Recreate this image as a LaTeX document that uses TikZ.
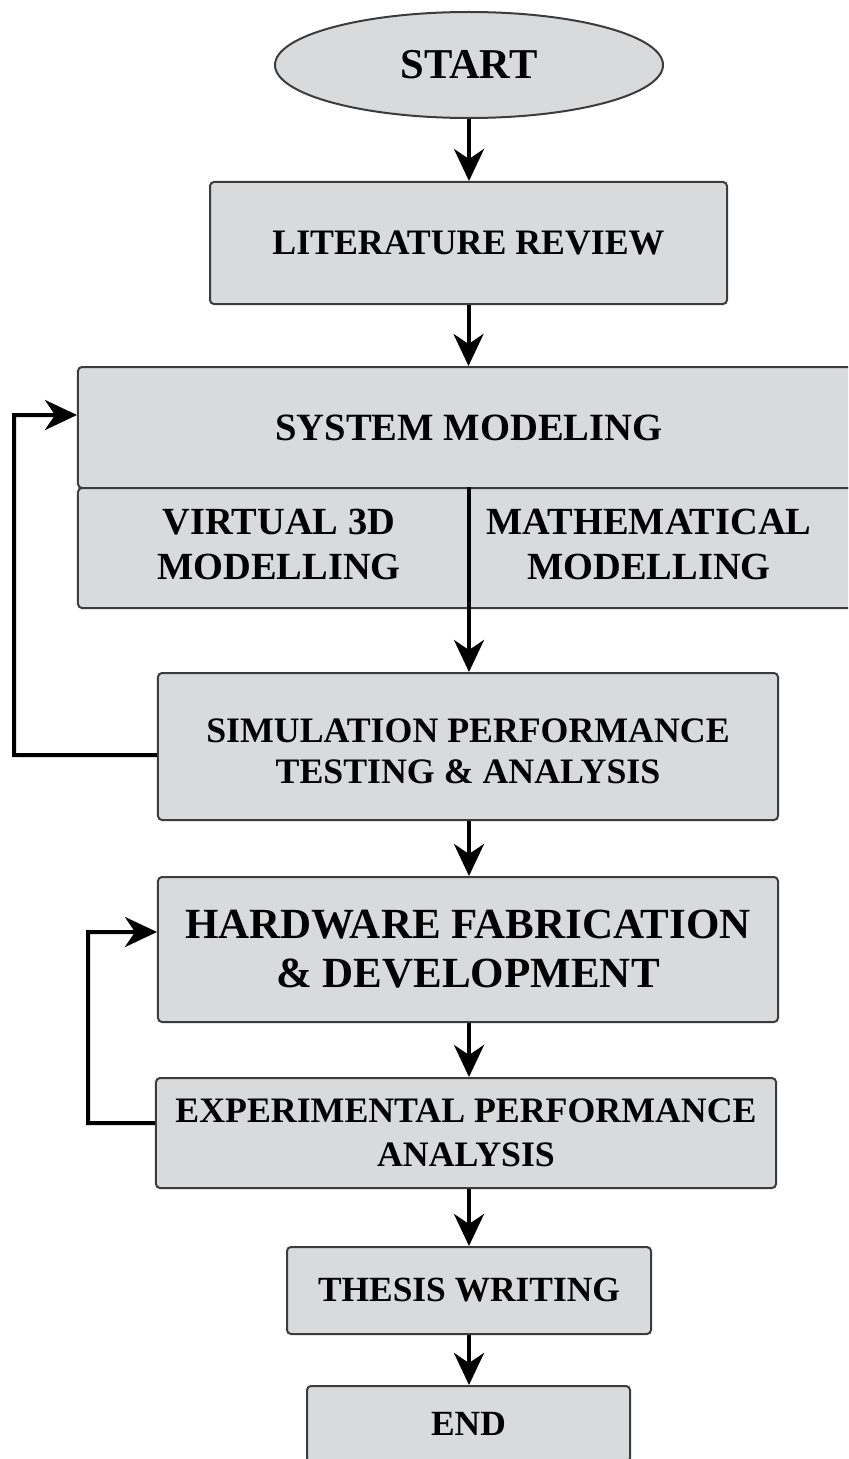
\documentclass[tikz,border=0pt]{standalone}
\usepackage{fontspec}
\setmainfont{Liberation Serif}
\usetikzlibrary{arrows.meta,shapes.geometric}
\definecolor{boxfill}{HTML}{D9DADC}
\definecolor{boxline}{HTML}{3C3C3C}
\begin{document}
\begin{tikzpicture}[x=1bp,y=-1bp,
  box/.style={draw=boxline,line width=2bp,fill=boxfill,rounded corners=4bp,inner sep=0pt,align=center,
    font=\bfseries\fontsize{35.8bp}{41bp}\selectfont},
  plain/.style={inner sep=0pt,align=center,font=\bfseries\fontsize{38.4bp}{45bp}\selectfont},
  arr/.style={line width=4bp,-{Stealth[length=32bp,width=30bp,inset=10bp]}}]
\useasboundingbox (0,0) rectangle (848,1459);
\clip (0,0) rectangle (848,1459);
\node[box,ellipse,rounded corners=0pt,minimum width=388bp,minimum height=106bp,
  font=\bfseries\fontsize{42.5bp}{46bp}\selectfont] (start) at (469,65) {START};
\node[box,minimum width=517bp,minimum height=122bp] (lit) at (468.5,243) {LITERATURE REVIEW};
\node[box,minimum width=782bp,minimum height=121bp,font=\bfseries\fontsize{38.6bp}{44bp}\selectfont] (sys) at (469,427.5) {SYSTEM MODELING};
\node[box,minimum width=782bp,minimum height=120bp] (sub) at (469,548) {};
\node[plain] (v3d) at (279,544) {VIRTUAL 3D\\MODELLING};
\node[plain] (math) at (649,544) {MATHEMATICAL\\MODELLING};
\node[box,minimum width=620bp,minimum height=147bp] (sim) at (468,746.5) {\\[-8bp]SIMULATION PERFORMANCE\\TESTING \& ANALYSIS};
\node[box,minimum width=620bp,minimum height=145bp,font=\bfseries\fontsize{43bp}{49bp}\selectfont] (hw) at (468,949.5) {HARDWARE FABRICATION\\\& DEVELOPMENT};
\node[box,minimum width=620bp,minimum height=110bp,font=\bfseries\fontsize{35.8bp}{44bp}\selectfont] (exp) at (466,1133) {EXPERIMENTAL PERFORMANCE\\ANALYSIS};
\node[box,minimum width=364bp,minimum height=87bp,font=\bfseries\fontsize{35.4bp}{40bp}\selectfont] (thesis) at (469,1290.5) {THESIS WRITING};
\node[box,minimum width=323bp,minimum height=76bp,font=\bfseries\fontsize{35.4bp}{40bp}\selectfont] (end) at (468.5,1424) {END};
\coordinate (axis) at (469,0);
\draw[arr] (start.south) -- (start.south |- lit.north);
\draw[arr] (lit.south) -- (lit.south |- sys.north);
\draw[arr] (sub.north) -- (sub.north |- sim.north);
\draw[arr] (axis |- sim.south) -- (axis |- hw.north);
\draw[arr] (axis |- hw.south) -- (axis |- exp.north);
\draw[arr] (axis |- exp.south) -- (axis |- thesis.north);
\draw[arr] (axis |- thesis.south) -- (axis |- end.north);
\coordinate (fb1) at (14,755);
\draw[arr] ([yshift=-8.5bp]sim.west) -- (fb1) |- ([yshift=12.5bp]sys.west);
\coordinate (fb2) at (88,1123);
\draw[arr] ([yshift=10bp]exp.west) -- (fb2) |- ([yshift=17.5bp]hw.west);
\end{tikzpicture}
\end{document}
